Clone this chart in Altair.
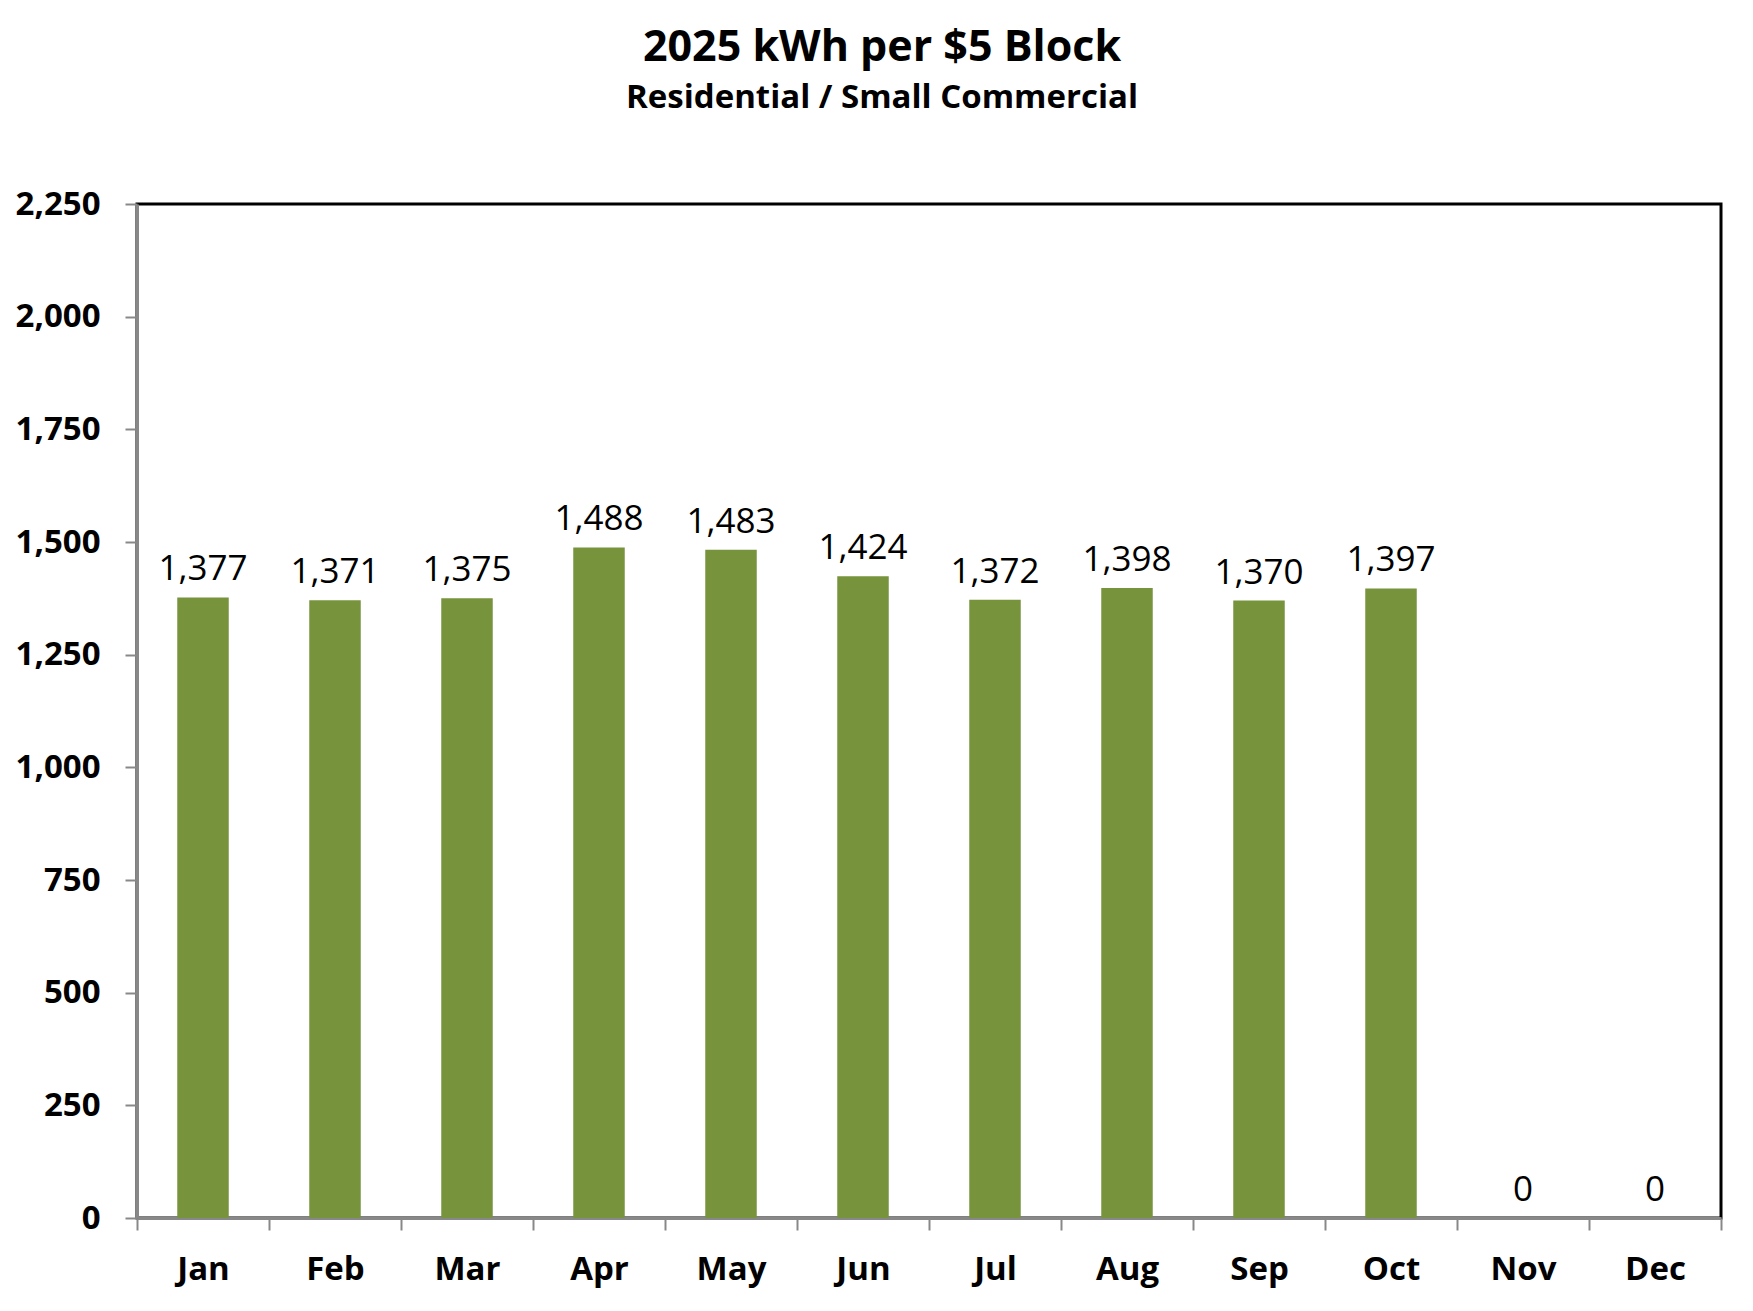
import altair as alt
import pandas as pd

months = ["Jan", "Feb", "Mar", "Apr", "May", "Jun", "Jul", "Aug", "Sep", "Oct", "Nov", "Dec"]
kwh = [1377, 1371, 1375, 1488, 1483, 1424, 1372, 1398, 1370, 1397, 0, 0]
y_ticks = [0, 250, 500, 750, 1000, 1250, 1500, 1750, 2000, 2250]

df = pd.DataFrame({"month": months, "kwh": kwh})

FONT = "Open Sans"

x = alt.X(
    "month:N",
    sort=months,
    title=None,
    scale=alt.Scale(paddingInner=0, paddingOuter=0),
    axis=alt.Axis(
        labelAngle=0,
        labelFont=FONT,
        labelFontSize=33,
        labelFontWeight="bold",
        labelColor="#000000",
        labelPadding=23,
        tickBand="extent",
        tickSize=12,
        tickColor="#888888",
        tickWidth=2,
        domainColor="#888888",
        domainWidth=3,
    ),
)
y = alt.Y(
    "kwh:Q",
    title=None,
    scale=alt.Scale(domain=[0, 2250], nice=False),
    axis=alt.Axis(
        values=y_ticks,
        labelExpr="format(datum.value, ',')",
        labelFont=FONT,
        labelFontSize=33,
        labelFontWeight="bold",
        labelColor="#000000",
        labelPadding=25,
        tickSize=12,
        tickColor="#888888",
        tickWidth=2,
        domainColor="#888888",
        domainWidth=3,
        grid=False,
    ),
)

bars = alt.Chart(df).mark_bar(color="#77933C", width=alt.RelativeBandSize(0.39)).encode(x=x, y=y)
labels = alt.Chart(df).mark_text(
    font=FONT, fontSize=35, color="#000000", baseline="alphabetic", dy=-17
).encode(x=x, y=y, text=alt.Text("kwh:Q", format=","))

chart = (
    alt.layer(bars, labels)
    .properties(
        width=1584,
        height=1014,
        padding={"left": 129, "top": 196, "right": 16, "bottom": 70},
        autosize=alt.AutoSizeParams(type="none"),
        title=alt.TitleParams(
            text="2025 kWh per $5 Block",
            subtitle="Residential / Small Commercial",
            font=FONT,
            fontSize=43,
            fontWeight="bold",
            color="#000000",
            subtitleFont=FONT,
            subtitleFontSize=33,
            subtitleFontWeight="bold",
            subtitleColor="#000000",
            subtitlePadding=12,
            anchor="middle",
            dx=-47,
            offset=73,
        ),
    )
    .configure(background="#ffffff", view=alt.ViewConfig(stroke="#000000", strokeWidth=3))
)

chart.save("out.html", embed_options={"renderer": "svg", "actions": False})
